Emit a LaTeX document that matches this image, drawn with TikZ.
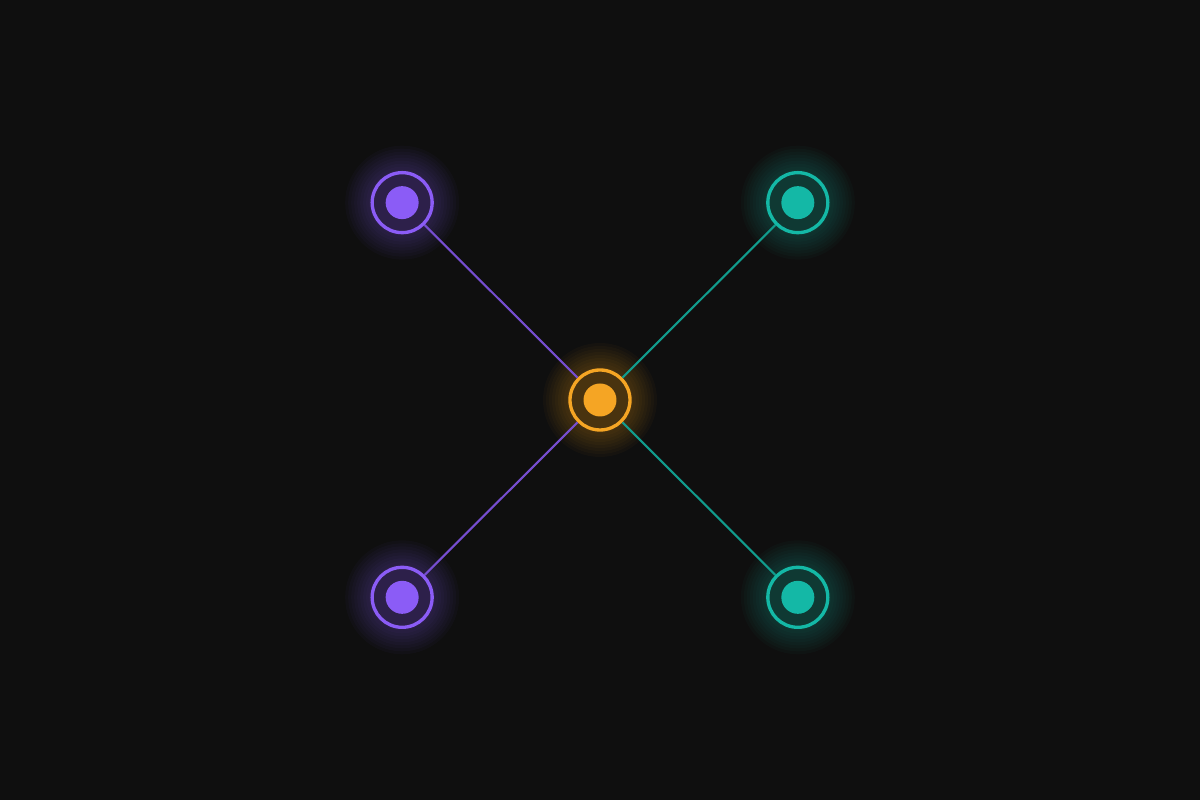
\documentclass[tikz,border=0pt]{standalone}
\usepackage{tikz}
\usetikzlibrary{matrix}

\definecolor{bgc}{HTML}{0F0F0F}
\definecolor{vio}{HTML}{8B5CF6}
\definecolor{tea}{HTML}{14B8A6}
\definecolor{amb}{HTML}{F5A524}

\pgfdeclarelayer{back}
\pgfdeclarelayer{glow}
\pgfsetlayers{back,glow,main}

\tikzset{
	hub/.style={circle, draw=#1, line width=0.95pt, minimum size=0.6cm, inner sep=0pt,
		path picture={\fill[#1] (path picture bounding box.center) circle (0.165cm);}},
	link/.style={draw=#1!85!black, line width=0.6pt}
}

\begin{document}
\begin{tikzpicture}
	\useasboundingbox (0,0) rectangle (12,8);
	\begin{pgfonlayer}{back}
		\fill[bgc] (0,0) rectangle (12,8);
	\end{pgfonlayer}
	\matrix (m) at (6,4) [matrix of nodes, row sep=1.34cm, column sep=1.345cm]
	{
		|[hub=vio]| {} & & |[hub=tea]| {} \\
		& |[hub=amb]| {} & \\
		|[hub=vio]| {} & & |[hub=tea]| {} \\
	};
	\path
	(m-1-1) edge[link=vio] (m-2-2)
	(m-3-1) edge[link=vio] (m-2-2)
	(m-1-3) edge[link=tea] (m-2-2)
	(m-3-3) edge[link=tea] (m-2-2)
	;
	% soft halo round each ring
	\begin{pgfonlayer}{glow}
		\foreach \n/\c in {m-1-1/vio, m-3-1/vio, m-1-3/tea, m-3-3/tea, m-2-2/amb}
		\foreach \r in {0.30,0.33,...,0.57}
		\fill[\c, opacity=0.03] (\n.center) circle (\r);
	\end{pgfonlayer}
\end{tikzpicture}
\end{document}
